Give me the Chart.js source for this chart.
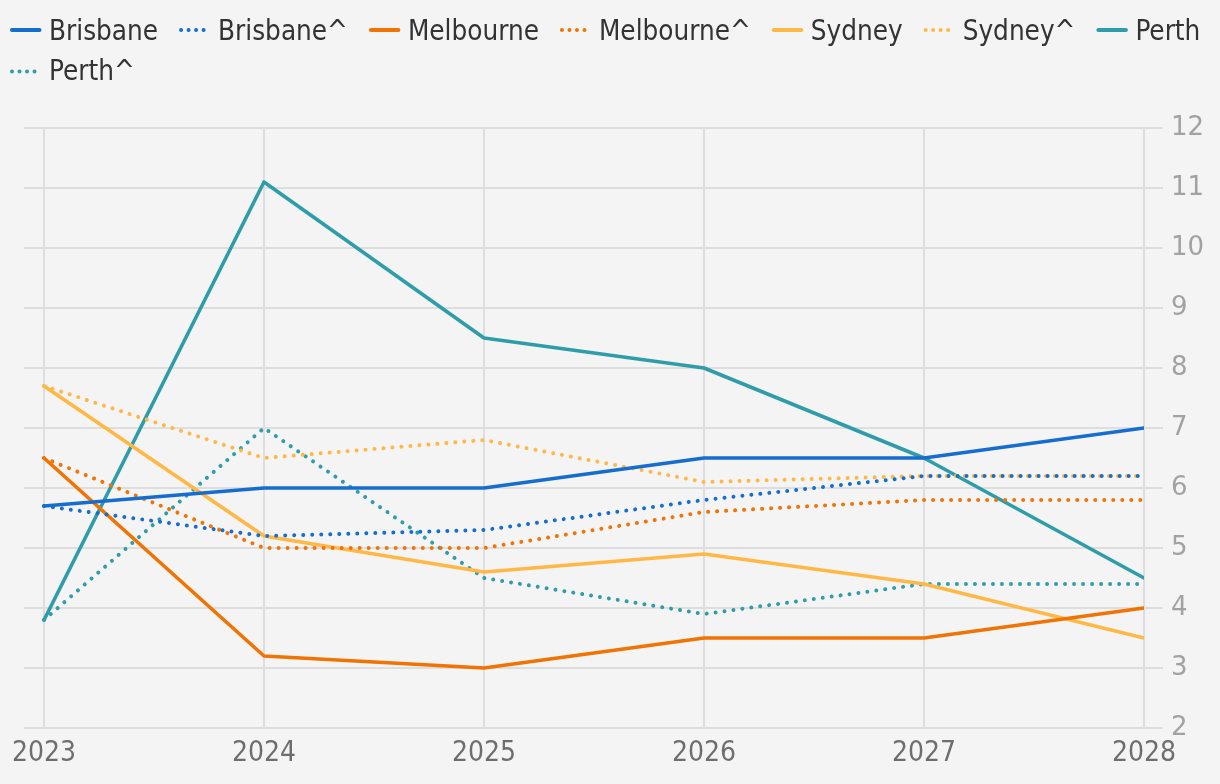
<!DOCTYPE html>
<html>
<head>
<meta charset="utf-8">
<script src="https://cdn.jsdelivr.net/npm/chart.js@4.4.1/dist/chart.umd.min.js"></script>
<style>
  html, body { margin: 0; padding: 0; background: #f4f4f4; }
  #wrap { width: 1220px; height: 784px; position: relative; }
</style>
</head>
<body>
<div id="wrap"><canvas id="c"></canvas></div>
<script>
// ---- data ----
const years = [2023, 2024, 2025, 2026, 2027, 2028];
const yTicks = [2, 3, 4, 5, 6, 7, 8, 9, 10, 11, 12];

const brisbane      = [5.7, 6.0, 6.0, 6.5, 6.5, 7.0];
const brisbaneHat   = [5.7, 5.2, 5.3, 5.8, 6.2, 6.2];
const melbourne     = [6.5, 3.2, 3.0, 3.5, 3.5, 4.0];
const melbourneHat  = [6.5, 5.0, 5.0, 5.6, 5.8, 5.8];
const sydney        = [7.7, 5.2, 4.6, 4.9, 4.4, 3.5];
const sydneyHat     = [7.7, 6.5, 6.8, 6.1, 6.2, 6.2];
const perth         = [3.8, 11.1, 8.5, 8.0, 6.5, 4.5];
const perthHat      = [3.8, 7.0, 4.5, 3.9, 4.4, 4.4];

const seriesNames = ['Brisbane', 'Brisbane^', 'Melbourne', 'Melbourne^', 'Sydney', 'Sydney^', 'Perth', 'Perth^'];
const seriesValues = [brisbane, brisbaneHat, melbourne, melbourneHat, sydney, sydneyHat, perth, perthHat];

// ---- styles ----
const BLUE = '#156dcf', ORANGE = '#f07304', YELLOW = '#ffb845', TEAL = '#2f9ca9';
const seriesColors = [BLUE, BLUE, ORANGE, ORANGE, YELLOW, YELLOW, TEAL, TEAL];
const CONDENSED = '"DejaVu Sans Condensed", sans-serif';

const datasets = seriesNames.map((name, i) => {
  const dotted = name.endsWith('^');
  return {
    label: name,
    data: years.map((yr, j) => ({ x: yr, y: seriesValues[i][j] })),
    borderColor: seriesColors[i],
    backgroundColor: seriesColors[i],
    borderWidth: dotted ? 4 : 3.6,
    borderDash: dotted ? [0.01, 9] : [],
    borderCapStyle: 'round',
    borderJoinStyle: 'round',
    pointRadius: 0,
    pointHoverRadius: 0,
    tension: 0,
    fill: false
  };
});

// Legend drawn at the top with solid / dotted line markers
const legendPlugin = {
  id: 'lineLegend',
  afterDraw(chart) {
    const ctx = chart.ctx;
    const textOffset = 39, itemGap = 21, startX = 10, maxX = chart.width;
    ctx.save();
    ctx.font = '27.6px ' + CONDENSED;
    let x = startX, row = 0;
    chart.data.datasets.forEach(ds => {
      const tw = ctx.measureText(ds.label).width;
      const w = textOffset + tw;
      if (x + w > maxX && x > startX) { row++; x = startX; }
      const base = 40 + row * 40;
      const my = base - 10 + (row ? 1.5 : 0);
      ctx.strokeStyle = ds.borderColor;
      ctx.lineCap = 'round';
      ctx.lineWidth = 4;
      ctx.beginPath();
      if (ds.borderDash.length) {
        ctx.setLineDash([0.01, 7.5]);
        ctx.moveTo(x + 2, my); ctx.lineTo(x + 30, my);
      } else {
        ctx.setLineDash([]);
        ctx.moveTo(x + 2, my); ctx.lineTo(x + 29.5, my);
      }
      ctx.stroke();
      ctx.setLineDash([]);
      ctx.fillStyle = '#333333';
      ctx.textBaseline = 'alphabetic';
      ctx.textAlign = 'left';
      ctx.fillText(ds.label, x + textOffset, base);
      x += w + itemGap;
    });
    ctx.restore();
  }
};

const bgPlugin = {
  id: 'bg',
  beforeDraw(chart) {
    const ctx = chart.ctx;
    ctx.save();
    ctx.fillStyle = '#f4f4f4';
    ctx.fillRect(0, 0, chart.width, chart.height);
    ctx.restore();
  }
};

new Chart(document.getElementById('c'), {
  type: 'line',
  data: { datasets },
  plugins: [bgPlugin, legendPlugin],
  options: {
    responsive: true,
    maintainAspectRatio: false,
    animation: false,
    layout: { padding: { top: 128, left: 0, right: 0, bottom: 0 } },
    plugins: {
      tooltip: { enabled: false },
      legend: { display: false }
    },
    scales: {
      x: {
        type: 'linear',
        min: 2023 - 20 / 220,
        max: 2028,
        afterBuildTicks(scale) { scale.ticks = years.map(v => ({ value: v })); },
        afterFit(scale) { scale.height = 56; scale.paddingLeft = 24; scale.paddingRight = 0; },
        grid: { color: '#dedede', lineWidth: 2, drawTicks: false },
        border: { display: false },
        ticks: {
          padding: 9,
          color: '#6e6e6e',
          font: { family: CONDENSED, size: 28 },
          maxRotation: 0,
          autoSkip: false,
          callback: v => String(v)
        }
      },
      y: {
        position: 'right',
        min: 2,
        max: 12,
        afterBuildTicks(scale) { scale.ticks = yTicks.map(v => ({ value: v })); },
        afterFit(scale) { scale.width = 76; },
        grid: { color: '#dedede', lineWidth: 2, drawTicks: true, tickLength: 19, tickColor: '#dedede' },
        border: { display: false },
        ticks: {
          padding: 8,
          color: '#a2a2a2',
          font: { family: '"DejaVu Sans", sans-serif', size: 26 },
          callback: v => String(v)
        }
      }
    }
  }
});
</script>
</body>
</html>
